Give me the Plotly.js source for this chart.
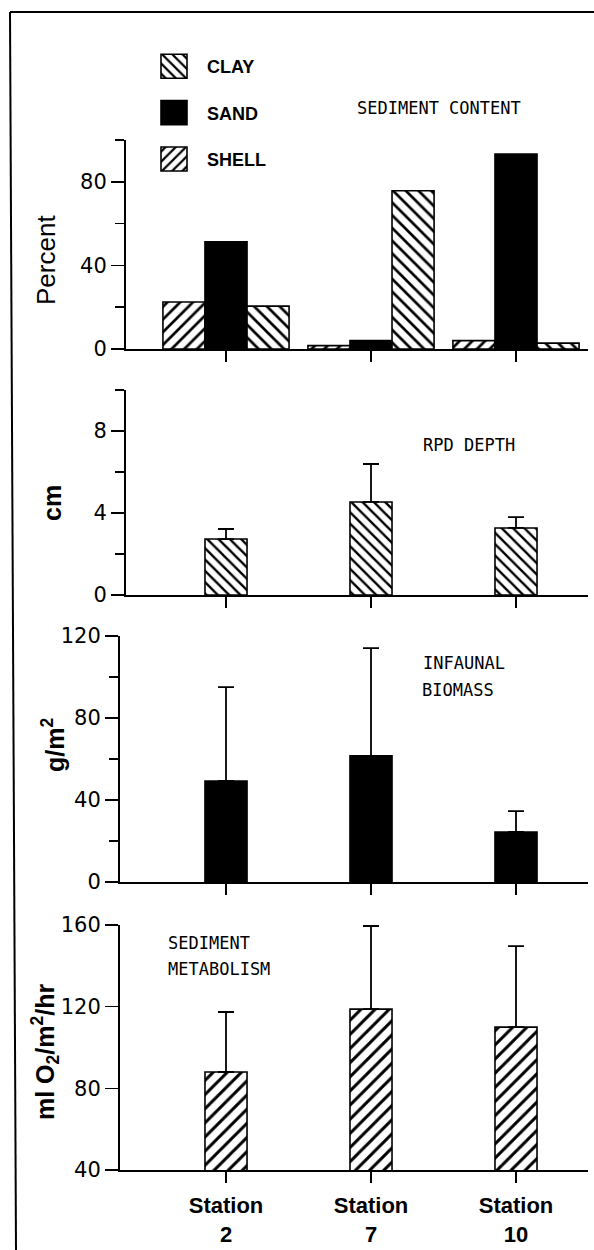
<!DOCTYPE html>
<html>
<head>
<meta charset="utf-8">
<script src="https://cdn.plot.ly/plotly-3.0.1.min.js"></script>
<style>html,body{margin:0;padding:0;background:#fff;}#chart{width:594px;height:1250px;}</style>
</head>
<body>
<div id="chart"></div>
<script>
// ---- data ----
var stations = ['Station<br>2', 'Station<br>7', 'Station<br>10'];
// Sediment content, percent
var clay  = [20.5, 75.7, 2.8];
var sand  = [51.3, 4.0, 93.3];
var shell = [22.5, 1.6, 4.0];
// RPD depth, cm (mean and upper error)
var rpd    = [2.73, 4.54, 3.27];
var rpdErr = [0.49, 1.85, 0.53];
// Infaunal biomass, g/m2
var biomass    = [49.3, 61.5, 24.4];
var biomassErr = [45.8, 52.6, 10.2];
// Sediment metabolism, ml O2/m2/hr
var metab    = [88.0, 118.8, 110.0];
var metabErr = [29.4, 40.7, 39.7];

var W = 594, H = 1250;
function px(x){ return x / W; }
function py(y){ return 1 - y / H; }

var lineBlack = {color: '#000', width: 1.6};
function hatch(shape, size){
  return {shape: shape, fgcolor: '#000', bgcolor: '#fff', size: size, solidity: 0.3, fillmode: 'replace'};
}
function errUp(arr){
  return {type: 'data', symmetric: false, array: arr, arrayminus: [0,0,0],
          color: '#000', thickness: 1.8, width: 8};
}

var traces = [
  {type: 'bar', name: 'SHELL', x: stations, y: shell, xaxis: 'x', yaxis: 'y',
   marker: {color: '#fff', line: lineBlack, pattern: hatch('/', 9)},
   legendgroup: 'g3', legendrank: 3},
  {type: 'bar', name: 'SAND', x: stations, y: sand, xaxis: 'x', yaxis: 'y',
   marker: {color: '#000', line: lineBlack},
   legendgroup: 'g2', legendrank: 2},
  {type: 'bar', name: 'CLAY', x: stations, y: clay, xaxis: 'x', yaxis: 'y',
   marker: {color: '#fff', line: lineBlack, pattern: hatch('\\', 9)},
   legendgroup: 'g1', legendrank: 1},
  {type: 'bar', name: 'RPD DEPTH', x: stations, y: rpd, xaxis: 'x2', yaxis: 'y2', width: 0.29,
   marker: {color: '#fff', line: lineBlack, pattern: hatch('\\', 8)},
   error_y: errUp(rpdErr), showlegend: false},
  {type: 'bar', name: 'INFAUNAL BIOMASS', x: stations, y: biomass, xaxis: 'x3', yaxis: 'y3', width: 0.29,
   marker: {color: '#000', line: lineBlack},
   error_y: errUp(biomassErr), showlegend: false},
  {type: 'bar', name: 'SEDIMENT METABOLISM', x: stations, y: metab, xaxis: 'x4', yaxis: 'y4', width: 0.29,
   marker: {color: '#fff', line: lineBlack, pattern: hatch('/', 10)},
   error_y: errUp(metabErr), showlegend: false}
];

var tickFont = {family: 'DejaVu Sans, Arial, sans-serif', size: 21, color: '#000'};
function xax(left, anchor, labels){
  var a = {type: 'category', domain: [px(left), px(588)],
    range: [-(226 - left) / 145, 2 + (588 - 516) / 145],
    anchor: anchor, showline: true, linecolor: '#000', linewidth: 2,
    ticks: 'outside', ticklen: 11, tickwidth: 1.5, tickcolor: '#000',
    showgrid: false, zeroline: false, showticklabels: !!labels, fixedrange: true};
  if (labels) {
    a.tickfont = {family: 'Liberation Sans, Arial, sans-serif', size: 22, color: '#000', weight: 'bold'};
    a.ticklabelstandoff = 4;
  }
  return a;
}
function yax(top, bottom, range, dtick, minor, anchor){
  var a = {domain: [py(bottom), py(top)], range: range, anchor: anchor,
    showline: true, linecolor: '#000', linewidth: 2,
    ticks: 'outside', ticklen: 13, tickwidth: 1.5, tickcolor: '#000', dtick: dtick, tick0: 0,
    tickfont: tickFont, showgrid: false, zeroline: false, fixedrange: true};
  if (minor) a.minor = {dtick: minor, ticks: 'outside', ticklen: 9, tickwidth: 1.5, tickcolor: '#000', showgrid: false};
  return a;
}

var monoFont = {family: 'DejaVu Sans Mono, Liberation Mono, monospace', size: 17, color: '#000'};
function note(text, x, y, xanchor){
  return {text: text, xref: 'paper', yref: 'paper', x: px(x), y: py(y),
          xanchor: xanchor || 'left', yanchor: 'middle', showarrow: false, font: monoFont};
}
function ytitle(text, x, y, size, bold){
  return {text: text, xref: 'paper', yref: 'paper', x: px(x), y: py(y), textangle: -90,
          xanchor: 'center', yanchor: 'middle', showarrow: false,
          font: {family: 'Liberation Sans, Arial, sans-serif', size: size, color: '#000', weight: bold ? 'bold' : 'normal'}};
}

var layout = {
  width: W, height: H, margin: {l: 0, r: 0, t: 0, b: 0},
  paper_bgcolor: '#fff', plot_bgcolor: 'rgba(0,0,0,0)',
  barmode: 'group', bargap: 0.13, bargroupgap: 0,
  showlegend: true,
  legend: {x: px(154), y: py(48), xanchor: 'left', yanchor: 'top',
    traceorder: 'grouped', tracegroupgap: 20, itemwidth: 30,
    bgcolor: 'rgba(0,0,0,0)', borderwidth: 0,
    font: {family: 'Liberation Sans, Arial, sans-serif', size: 18, color: '#000', weight: 'bold'}},
  xaxis: xax(126, 'y', false),
  xaxis2: xax(126, 'y2', false),
  xaxis3: xax(120, 'y3', false),
  xaxis4: xax(120, 'y4', true),
  yaxis: yax(140, 349, [0, 100], 40, 20, 'x'),
  yaxis2: yax(390, 595, [0, 10], 4, 2, 'x2'),
  yaxis3: yax(636, 882, [0, 120], 40, 20, 'x3'),
  yaxis4: yax(925, 1170, [40, 160], 40, null, 'x4'),
  annotations: [
    note('SEDIMENT CONTENT', 439, 108, 'center'),
    note('RPD DEPTH', 469, 445, 'center'),
    note('INFAUNAL', 421, 663),
    note('BIOMASS', 420, 690),
    note('SEDIMENT', 166, 943),
    note('METABOLISM', 166, 969),
    ytitle('Percent', 46, 260, 26, false),
    ytitle('cm', 52, 503, 25, true),
    ytitle('g/m<sup>2</sup>', 53, 745, 25, true),
    ytitle('ml O<sub>2</sub>/m<sup>2</sup>/hr', 45, 1052, 25, true)
  ],
  shapes: [
    {type: 'line', xref: 'paper', yref: 'paper', x0: px(10), y0: py(12), x1: 1, y1: py(12), line: {color: '#000', width: 2}},
    {type: 'line', xref: 'paper', yref: 'paper', x0: px(10), y0: py(12), x1: px(16), y1: 0, line: {color: '#000', width: 2}}
  ]
};

Plotly.newPlot('chart', traces, layout, {displayModeBar: false, staticPlot: true}).then(function(gd){
  // enlarge legend swatches to match the figure's key boxes, and give the labels room
  var paths = gd.querySelectorAll('.legend .legendpoints path');
  for (var i = 0; i < paths.length; i++) {
    paths[i].setAttribute('d', 'M13,12H-13V-12H13Z');
  }
  var texts = gd.querySelectorAll('.legend .legendtext');
  for (var j = 0; j < texts.length; j++) {
    var x = parseFloat(texts[j].getAttribute('x')) || 40;
    texts[j].setAttribute('x', x + 13);
  }
  var clipped = gd.querySelectorAll('.legend [clip-path]');
  for (var k = 0; k < clipped.length; k++) {
    clipped[k].removeAttribute('clip-path');
  }
});
</script>
</body>
</html>
